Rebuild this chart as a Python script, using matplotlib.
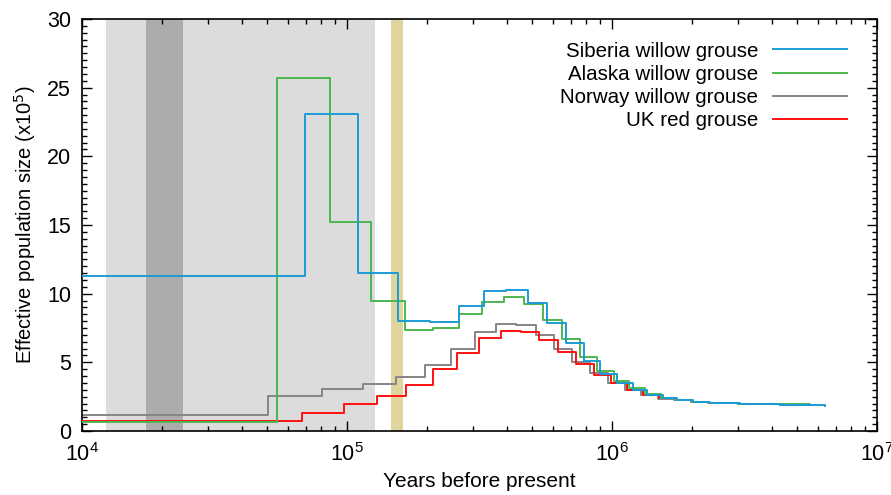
import matplotlib
matplotlib.use("Agg")
import matplotlib.pyplot as plt
from matplotlib.ticker import MultipleLocator, LogLocator, NullFormatter

plt.rcParams['font.family'] = ['Liberation Sans', 'DejaVu Sans']

# ---- data (years before present, effective size x1e5) ----
sib_t = [1e4, 6.94e4, 1.10e5, 1.557e5, 2.06e5, 2.64e5, 3.28e5, 3.99e5, 4.80e5, 5.68e5,
         6.69e5, 7.84e5, 8.99e5, 1.048e6, 1.2e6, 1.36e6, 1.56e6, 1.76e6, 2.02e6, 2.35e6,
         3.05e6, 4.3e6, 5.6e6, 6.34e6]
sib_v = [11.29, 23.11, 11.48, 8.01, 7.94, 9.13, 10.22, 10.29, 9.35, 7.89,
         6.43, 5.10, 4.13, 3.47, 2.95, 2.62, 2.38, 2.26, 2.13, 2.05,
         1.98, 1.92, 1.88, 1.84]

ala_t = [1e4, 5.44e4, 8.66e4, 1.236e5, 1.651e5, 2.11e5, 2.64e5, 3.24e5, 3.90e5, 4.64e5,
         5.49e5, 6.48e5, 7.55e5, 8.81e5, 1.015e6, 1.159e6, 1.33e6, 1.53e6, 1.75e6, 2.0e6,
         2.33e6, 3.0e6, 4.3e6, 5.6e6]
ala_v = [0.68, 25.71, 15.2, 9.45, 7.36, 7.53, 8.52, 9.42, 9.78, 9.25,
         8.08, 6.68, 5.41, 4.39, 3.66, 3.11, 2.70, 2.42, 2.27, 2.14,
         2.06, 1.99, 1.93, 1.88]

nor_t = [1e4, 5.03e4, 8.03e4, 1.15e5, 1.536e5, 1.97e5, 2.46e5, 3.03e5, 3.65e5, 4.36e5,
         5.18e5, 6.04e5, 7.06e5, 8.28e5, 9.69e5, 1.12e6, 1.29e6, 1.49e6, 1.72e6, 1.98e6,
         2.3e6, 3.0e6, 4.3e6, 5.6e6]
nor_v = [1.17, 2.55, 3.04, 3.40, 3.96, 4.83, 5.97, 7.21, 7.82, 7.70,
         6.99, 5.99, 5.05, 4.20, 3.52, 2.99, 2.62, 2.36, 2.24, 2.12,
         2.05, 1.98, 1.92, 1.88]

uk_t = [1e4, 6.79e4, 9.72e4, 1.302e5, 1.675e5, 2.11e5, 2.59e5, 3.15e5, 3.80e5, 4.52e5,
        5.30e5, 6.25e5, 7.34e5, 8.53e5, 9.95e5, 1.14e6, 1.31e6, 1.51e6, 1.74e6, 2.0e6,
        2.32e6, 3.0e6, 4.3e6, 5.57e6]
uk_v = [0.72, 1.33, 1.95, 2.57, 3.37, 4.49, 5.66, 6.75, 7.26, 7.19,
        6.61, 5.73, 4.86, 4.08, 3.47, 2.99, 2.62, 2.38, 2.25, 2.12,
        2.05, 1.98, 1.92, 1.88]

labels = ["Siberia willow grouse", "Alaska willow grouse", "Norway willow grouse", "UK red grouse"]
colors = ["#1b9bd7", "#4db84f", "#858585", "#ff1010"]

# shaded periods (years)
glacial = (1.23e4, 1.28e5)
lgm = (1.75e4, 2.41e4)
penult = (1.47e5, 1.62e5)

fig = plt.figure(figsize=(8.91, 4.95), dpi=100)
ax = fig.add_axes([82/891, 64/495, 795/891, 412/495])

ax.axvspan(*glacial, color="#dcdcdc", lw=0, zorder=0)
ax.axvspan(*lgm, color="#acacac", lw=0, zorder=0.5)
ax.axvspan(*penult, color="#e1d59e", lw=0, zorder=0)

series = [(sib_t, sib_v), (ala_t, ala_v), (nor_t, nor_v), (uk_t, uk_v)]
zorders = [5, 4, 2, 3]
for (t, v), lab, c, z in zip(series, labels, colors, zorders):
    ax.step(t, v, where="post", color=c, lw=1.4, label=lab, zorder=z)

ax.set_xscale("log")
ax.set_xlim(1e4, 1e7)
ax.set_ylim(0, 30)
ax.yaxis.set_major_locator(MultipleLocator(5))
ax.yaxis.set_minor_locator(MultipleLocator(0.5))
ax.xaxis.set_major_locator(LogLocator(base=10))
ax.xaxis.set_minor_locator(LogLocator(base=10, subs=range(2, 10)))
ax.xaxis.set_minor_formatter(NullFormatter())

ax.tick_params(which="both", direction="in", top=True, right=True, labelsize=15.5, width=1)
ax.tick_params(which="major", length=7)
ax.tick_params(axis="x", which="major", pad=9)
ax.tick_params(axis="y", which="major", pad=8)
ax.tick_params(which="minor", length=3.5)
for s in ax.spines.values():
    s.set_linewidth(1.2)

ax.set_xlabel("Years before present", fontsize=15, labelpad=4)
ax.set_ylabel("Effective population size (x10$^5$)", fontsize=14.5, labelpad=6)

leg = ax.legend(loc="upper right", frameon=False, markerfirst=False, fontsize=14.8,
                handlelength=3.6, handletextpad=0.7, labelspacing=0.2,
                bbox_to_anchor=(0.985, 0.99))
for txt in leg.get_texts():
    txt.set_ha("right")

fig.savefig("out.png", dpi=100)
